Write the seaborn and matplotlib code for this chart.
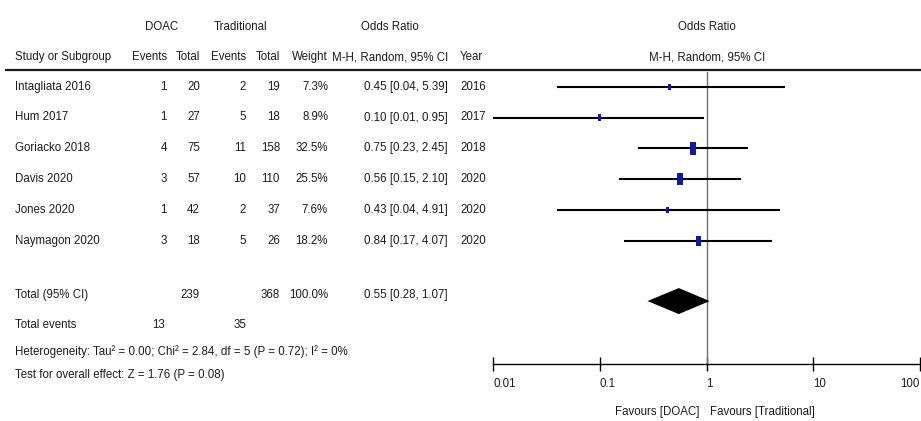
import matplotlib
matplotlib.use("Agg")
import matplotlib.pyplot as plt
from matplotlib import font_manager
from matplotlib.ticker import NullLocator
import numpy as np
import pandas as pd
import seaborn as sns

# ---- study data -------------------------------------------------------
studies = ["Intagliata 2016", "Hum 2017", "Goriacko 2018",
           "Davis 2020", "Jones 2020", "Naymagon 2020"]
doac_events = [1, 1, 4, 3, 1, 3]
doac_total = [20, 27, 75, 57, 42, 18]
trad_events = [2, 5, 11, 10, 2, 5]
trad_total = [19, 18, 158, 110, 37, 26]
weights = [7.3, 8.9, 32.5, 25.5, 7.6, 18.2]
odds = [0.45, 0.10, 0.75, 0.56, 0.43, 0.84]
ci_lo = [0.04, 0.01, 0.23, 0.15, 0.04, 0.17]
ci_hi = [5.39, 0.95, 2.45, 2.10, 4.91, 4.07]
years = [2016, 2017, 2018, 2020, 2020, 2020]

pooled_or, pooled_lo, pooled_hi = 0.55, 0.28, 1.07
total_doac, total_trad = 239, 368
events_doac, events_trad = 13, 35
heterogeneity = "Heterogeneity: Tau\u00b2 = 0.00; Chi\u00b2 = 2.84, df = 5 (P = 0.72); I\u00b2 = 0%"
overall = "Test for overall effect: Z = 1.76 (P = 0.08)"

axis_ticks = [0.01, 0.1, 1, 10, 100]
axis_labels = ["0.01", "0.1", "1", "10", "100"]

# ---- style ------------------------------------------------------------
sns.set_theme(style="white")


def has_font(name):
    try:
        font_manager.findfont(font_manager.FontProperties(family=name),
                              fallback_to_default=False)
        return True
    except Exception:
        return False


if has_font("Liberation Sans Narrow"):
    FAMILY, FS = ["Liberation Sans Narrow", "DejaVu Sans"], 10.0
else:
    FAMILY, FS = ["Liberation Sans", "DejaVu Sans"], 8.3
plt.rcParams["font.family"] = FAMILY
plt.rcParams["font.size"] = FS

INK = "#1c1c1c"
BLUE = "#0a1ca6"

W, H = 921, 421
ROW0, DY = 86.7, 30.8          # pixel centre of first study row, row pitch


def row_of(py):
    return (py - ROW0) / DY


fig = plt.figure(figsize=(W / 100, H / 100), dpi=100)
fig.patch.set_facecolor("white")

# table layer: x in pixels, y in row units
tab = fig.add_axes([0, 0, 1, 1])
tab.set_xlim(0, W)
tab.set_ylim(row_of(H), row_of(0))
tab.axis("off")


def put(x, py, s, ha="left"):
    tab.text(x, row_of(py), s, ha=ha, va="center", color=INK,
             fontsize=FS, clip_on=False)


def put_row(x, r, s, ha="right"):
    tab.text(x, r, s, ha=ha, va="center", color=INK, fontsize=FS)


# headers
put(162, 27, "DOAC", "center")
put(241, 27, "Traditional", "center")
put(390, 27, "Odds Ratio", "center")
put(707, 27, "Odds Ratio", "center")
put(15, 57, "Study or Subgroup")
put(167, 57, "Events", "right")
put(200, 57, "Total", "right")
put(246, 57, "Events", "right")
put(280, 57, "Total", "right")
put(328, 57, "Weight", "right")
put(448, 57, "M-H, Random, 95% CI", "right")
put(460, 57, "Year")
put(707, 57, "M-H, Random, 95% CI", "center")
tab.plot([5, W], [row_of(70)] * 2, color=INK, lw=1.6, solid_capstyle="butt")

# study rows
for i, name in enumerate(studies):
    put_row(15, i, name, "left")
    put_row(167, i, f"{doac_events[i]}")
    put_row(200, i, f"{doac_total[i]}")
    put_row(246, i, f"{trad_events[i]}")
    put_row(280, i, f"{trad_total[i]}")
    put_row(328, i, f"{weights[i]:.1f}%")
    put_row(448, i, f"{odds[i]:.2f} [{ci_lo[i]:.2f}, {ci_hi[i]:.2f}]")
    put_row(460, i, f"{years[i]}", "left")

# totals and footnotes
put(15, 295, "Total (95% CI)")
put(200, 295, f"{total_doac}", "right")
put(280, 295, f"{total_trad}", "right")
put(328, 295, f"{sum(weights):.1f}%", "right")
put(448, 295, f"{pooled_or:.2f} [{pooled_lo:.2f}, {pooled_hi:.2f}]", "right")
put(15, 324.5, "Total events")
put(165, 324.5, f"{events_doac}", "right")
put(246, 324.5, f"{events_trad}", "right")
put(15, 352, heterogeneity)
put(15, 375, overall)
put(699, 412, "Favours [DOAC]", "right")
put(710, 412, "Favours [Traditional]", "left")

# ---- forest panel -----------------------------------------------------
x0, x1, ytop, ybot = 493, 920, 72, 364
fax = fig.add_axes([x0 / W, (H - ybot) / H, (x1 - x0) / W, (ybot - ytop) / H])
fax.set_facecolor("none")
fax.set_xscale("log")
fax.set_xlim(0.01, 100)
fax.set_ylim(row_of(ybot), row_of(ytop))

rows = np.arange(len(studies))
fax.axvline(1, color="#707070", lw=1.0, zorder=1)
fax.hlines(rows, ci_lo, ci_hi, color="black", lw=1.5, zorder=2)

df = pd.DataFrame({"or": odds, "row": rows, "weight": weights})
rect = [(-0.5, -1.0), (0.5, -1.0), (0.5, 1.0), (-0.5, 1.0)]
sns.scatterplot(data=df, x="or", y="row", size="weight",
                sizes={w: 2.7 * w for w in weights}, marker=rect,
                color=BLUE, edgecolor=BLUE, linewidth=0, legend=False,
                ax=fax, zorder=3)

total_row = 6.96
half_h = 13 / DY
fax.fill([pooled_lo, pooled_or, pooled_hi, pooled_or],
         [total_row, total_row - half_h, total_row, total_row + half_h],
         color="black", lw=0, zorder=3)

for side in ("top", "left", "right"):
    fax.spines[side].set_visible(False)
fax.spines["bottom"].set_color("black")
fax.spines["bottom"].set_linewidth(1.0)
fax.set_yticks([])
fax.set_xlabel("")
fax.set_ylabel("")
fax.set_xticks(axis_ticks)
fax.set_xticklabels(axis_labels)
fax.xaxis.set_minor_locator(NullLocator())
fax.tick_params(axis="x", direction="inout", length=10, width=1.0,
                color="black", labelcolor=INK, labelsize=FS, pad=5,
                bottom=True)
ticklabels = fax.get_xticklabels()
for lab in ticklabels:
    lab.set_ha("left")
# the last label sits at the figure's right edge, so it ends at its tick
ticklabels[-1].set_ha("right")

fig.savefig("out.png", dpi=100)
